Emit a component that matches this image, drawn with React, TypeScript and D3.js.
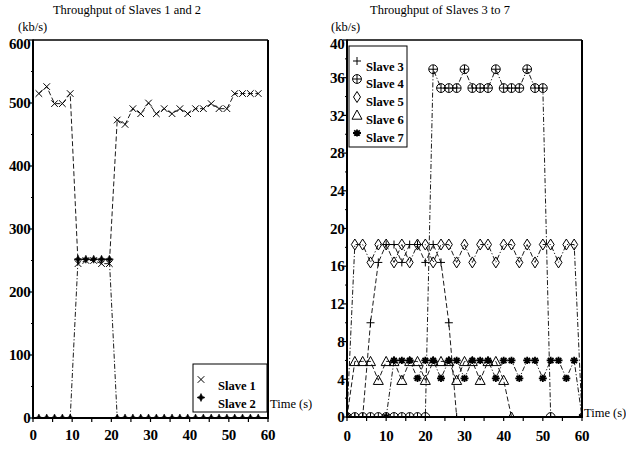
import React from 'react';
import * as d3 from 'd3';

const W = 626;
const H = 453;
const SERIF = "'Liberation Serif', 'Times New Roman', Times, serif";

// ---- Throughput of Slaves 1 and 2 (kb/s) ----
const leftTimes = [
  1.5, 3.5, 5.5, 7.5, 9.5, 11.5, 13.5, 15.5, 17.5, 19.5, 21.5, 23.5, 25.5, 27.5, 29.5,
  31.5, 33.5, 35.5, 37.5, 39.5, 41.5, 43.5, 45.5, 47.5, 49.5, 51.5, 53.5, 55.5, 57.5,
];
const slave1 = [
  515, 526, 499, 499, 515, 245, 250, 250, 245, 245, 473, 466, 491, 483, 500,
  483, 491, 483, 491, 483, 491, 491, 499, 491, 491, 515, 515, 515, 515,
];
const slave2 = [
  0, 0, 0, 0, 0, 252, 252, 252, 252, 252, 0, 0, 0, 0, 0,
  0, 0, 0, 0, 0, 0, 0, 0, 0, 0, 0, 0, 0, 0,
];
const leftYTicks = [0, 100, 200, 300, 400, 500, 600];

// ---- Throughput of Slaves 3 to 7 (kb/s) ----
const rightTimes = [
  0, 2, 4, 6, 8, 10, 12, 14, 16, 18, 20, 22, 24, 26, 28, 30,
  32, 34, 36, 38, 40, 42, 44, 46, 48, 50, 52, 54, 56, 58, 60,
];
const slave3 = [
  0, 0, 0, 10, 16.4, 18.3, 18.3, 16.4, 18.3, 18.3, 16.4, 18.3, 16.4, 10, 0, null,
  null, null, null, null, null, null, null, null, null, null, null, null, null, null, null,
];
const slave4 = [
  0, 0, 0, 0, 0, 0, 0, 0, 0, 0, 0, 36.9, 34.9, 34.9, 34.9, 36.9,
  34.9, 34.9, 34.9, 36.9, 34.9, 34.9, 34.9, 36.9, 34.9, 34.9, 0, null, null, null, null,
];
const slave5 = [
  0, 18.3, 18.3, 16.4, 18.3, 18.3, 16.4, 18.3, 16.4, 18.3, 18.3, 16.4, 18.3, 18.3, 16.4, 18.3,
  16.4, 18.3, 18.3, 16.4, 18.3, 18.3, 16.4, 18.3, 16.4, 18.3, 18.3, 16.4, 18.3, 18.3, 0,
];
const slave6 = [
  0, 5.9, 5.9, 5.9, 3.9, 5.9, 5.9, 3.9, 5.9, 5.9, 3.9, 5.9, 5.9, 5.9, 3.9, 5.9,
  5.9, 3.9, 5.9, 5.9, 3.9, 0, null, null, null, null, null, null, null, null, null,
];
const slave7 = [
  null, null, null, null, null, 0, 6, 6, 6, 4.1, 6, 6, 4.1, 6, 6, 4.1,
  6, 6, 6, 4.1, 6, 6, 4.1, 6, 6, 4.1, 6, 6, 4.1, 6, 0,
];
const rightYTicks = [0, 4, 8, 12, 16, 20, 24, 28, 32, 36, 40];
const xTicks = [0, 10, 20, 30, 40, 50, 60];

type MarkerKind = 'x' | 'star4' | 'plus' | 'circlePlus' | 'diamond' | 'triangle' | 'blob';

function Marker({ kind, x, y }: { kind: MarkerKind; x: number; y: number }) {
  const t = `translate(${x},${y})`;
  switch (kind) {
    case 'x':
      return <path transform={t} d="M-3.3,-3.3L3.3,3.3M-3.3,3.3L3.3,-3.3" stroke="#000" strokeWidth={1} fill="none" />;
    case 'star4':
      return (
        <path transform={t} d="M0,-4L1.3,-1.3L4,0L1.3,1.3L0,4L-1.3,1.3L-4,0L-1.3,-1.3Z" fill="#000" stroke="#000" strokeWidth={0.6} />
      );
    case 'plus':
      return <path transform={t} d="M-4,0H4M0,-4V4" stroke="#000" strokeWidth={1} fill="none" />;
    case 'circlePlus':
      return (
        <g transform={t} stroke="#000" strokeWidth={1} fill="none">
          <circle r={4.4} />
          <path d="M-4.4,0H4.4M0,-4.4V4.4" />
        </g>
      );
    case 'diamond':
      return <path transform={t} d="M0,-5.5L3.5,0L0,5.5L-3.5,0Z" stroke="#000" strokeWidth={1} fill="none" />;
    case 'triangle':
      return <path transform={t} d="M0,-5L5,4.2L-5,4.2Z" stroke="#000" strokeWidth={1} fill="none" />;
    case 'blob':
      return (
        <g transform={t}>
          <path d="M-4,0H4M0,-3.6V3.6M-2.8,-2.6L2.8,2.6M-2.8,2.6L2.8,-2.6" stroke="#000" strokeWidth={1.8} fill="none" />
          <circle r={1.8} fill="#000" />
        </g>
      );
  }
  return null;
}

type Series = { name: string; values: (number | null)[]; marker: MarkerKind; dash: string };

const DASHED = '5,2.5';
const DASHDOT = '5,2,1.2,2';

const leftSeries: Series[] = [
  { name: 'Slave 1', values: slave1, marker: 'x', dash: DASHED },
  { name: 'Slave 2', values: slave2, marker: 'star4', dash: DASHDOT },
];

const rightSeries: Series[] = [
  { name: 'Slave 3', values: slave3, marker: 'plus', dash: DASHED },
  { name: 'Slave 4', values: slave4, marker: 'circlePlus', dash: DASHDOT },
  { name: 'Slave 5', values: slave5, marker: 'diamond', dash: DASHDOT },
  { name: 'Slave 6', values: slave6, marker: 'triangle', dash: DASHED },
  { name: 'Slave 7', values: slave7, marker: 'blob', dash: DASHDOT },
];

type PanelProps = {
  id: string;
  title: string;
  titleX: number;
  unitX: number;
  times: number[];
  series: Series[];
  xRange: [number, number];
  yRange: [number, number];
  yMax: number;
  yTicks: number[];
  yMinorStep: number;
  timeLabelY: number;
  xLabelY: number;
  legend: {
    x: number;
    y: number;
    w: number;
    h: number;
    markerX: number;
    textX: number;
    markerYs: number[];
    textYs: number[];
    size: number;
  };
};

function Panel(p: PanelProps) {
  const x = d3.scaleLinear().domain([0, 60]).range(p.xRange);
  const y = d3.scaleLinear().domain([0, p.yMax]).range(p.yRange);
  const [x0, x1] = p.xRange;
  const [yb, yt] = p.yRange;
  const minorX = d3.range(0, 61, 5);
  const minorY = d3.range(0, p.yMax + 0.001, p.yMinorStep).filter((v) => !p.yTicks.includes(v));
  const clipId = `clip-${p.id}`;

  const line = d3
    .line<[number, number | null]>()
    .defined((d) => d[1] !== null)
    .x((d) => x(d[0]))
    .y((d) => y(d[1] as number));

  return (
    <g>
      <defs>
        <clipPath id={clipId}>
          <rect x={x0} y={yt} width={x1 - x0} height={yb - yt} />
        </clipPath>
      </defs>

      <text x={p.titleX} y={14} textAnchor="middle" fontFamily={SERIF} fontSize={12.5}>
        {p.title}
      </text>
      <text x={p.unitX} y={31} fontFamily={SERIF} fontSize={12.5}>
        (kb/s)
      </text>

      {/* series */}
      <g clipPath={`url(#${clipId})`}>
        {p.series.map((s) => {
          const pts = p.times.map((t, i) => [t, s.values[i]] as [number, number | null]);
          return (
            <g key={s.name}>
              <path d={line(pts) || ''} fill="none" stroke="#000" strokeWidth={0.9} strokeDasharray={s.dash} />
              {pts
                .filter((d) => d[1] !== null)
                .map((d, i) => (
                  <Marker key={i} kind={s.marker} x={x(d[0])} y={y(d[1] as number)} />
                ))}
            </g>
          );
        })}
      </g>

      {/* frame */}
      <line x1={x0} y1={yt} x2={x1} y2={yt} stroke="#000" strokeWidth={1.3} />
      <line x1={x1} y1={yt} x2={x1} y2={yb} stroke="#000" strokeWidth={2} />
      <line x1={x0} y1={yt - 0.6} x2={x0} y2={yb + 1} stroke="#000" strokeWidth={2} />
      <line x1={x0 - 1} y1={yb} x2={x1 + 1} y2={yb} stroke="#000" strokeWidth={2} />

      {/* y ticks */}
      {p.yTicks.map((v) => (
        <g key={`yt${v}`}>
          <line x1={x0 - 4} x2={x0} y1={y(v)} y2={y(v)} stroke="#000" strokeWidth={1.2} />
          <text
            x={x0 - 2.5}
            y={Math.max(y(v) + 5.2, yt + 8.5)}
            textAnchor="end"
            fontFamily={SERIF}
            fontWeight="bold"
            fontSize={15}
            letterSpacing={-0.3}
          >
            {v}
          </text>
        </g>
      ))}
      {minorY.map((v) => (
        <line key={`ym${v}`} x1={x0 - 2} x2={x0} y1={y(v)} y2={y(v)} stroke="#000" strokeWidth={1} />
      ))}

      {/* x ticks */}
      {minorX.map((v) => (
        <line key={`xm${v}`} x1={x(v)} x2={x(v)} y1={yb} y2={yb + 4} stroke="#000" strokeWidth={1.2} />
      ))}
      {xTicks.map((v) => (
        <text
          key={`xt${v}`}
          x={x(v)}
          y={p.xLabelY}
          textAnchor="middle"
          fontFamily={SERIF}
          fontWeight="bold"
          fontSize={15}
          letterSpacing={-0.3}
        >
          {v}
        </text>
      ))}
      <text x={x1 + 2} y={p.timeLabelY} fontFamily={SERIF} fontSize={12.5}>
        Time (s)
      </text>

      {/* legend */}
      <rect x={p.legend.x} y={p.legend.y} width={p.legend.w} height={p.legend.h} fill="#fff" stroke="#000" strokeWidth={1} />
      {p.series.map((s, i) => (
        <g key={`lg${s.name}`}>
          <Marker kind={s.marker} x={p.legend.markerX} y={p.legend.markerYs[i]} />
          <text x={p.legend.textX} y={p.legend.textYs[i]} fontFamily={SERIF} fontSize={p.legend.size} fontWeight="bold">
            {s.name}
          </text>
        </g>
      ))}
    </g>
  );
}

export default function App() {
  return (
    <svg
      width={W}
      height={H}
      viewBox={`0 0 ${W} ${H}`}
      style={{ position: 'absolute', left: 0, top: 0, background: '#fff' }}
    >
      <rect width={W} height={H} fill="#fff" />
      <Panel
        id="left"
        title="Throughput of Slaves 1 and 2"
        titleX={127}
        unitX={18}
        times={leftTimes}
        series={leftSeries}
        xRange={[33, 268]}
        yRange={[418, 40]}
        yMax={600}
        yTicks={leftYTicks}
        yMinorStep={50}
        timeLabelY={408}
        xLabelY={440}
        legend={{
          x: 193,
          y: 364,
          w: 74,
          h: 48,
          markerX: 201,
          textX: 218,
          markerYs: [379.5, 397.5],
          textYs: [389.5, 408],
          size: 12.5,
        }}
      />
      <Panel
        id="right"
        title="Throughput of Slaves 3 to 7"
        titleX={440}
        unitX={331}
        times={rightTimes}
        series={rightSeries}
        xRange={[347, 582]}
        yRange={[417, 40]}
        yMax={40}
        yTicks={rightYTicks}
        yMinorStep={2}
        timeLabelY={417}
        xLabelY={441}
        legend={{
          x: 349,
          y: 46,
          w: 58,
          h: 101,
          markerX: 357,
          textX: 366,
          markerYs: [61, 79, 97, 115, 133],
          textYs: [70.5, 88, 106, 123.5, 141.5],
          size: 12.5,
        }}
      />
    </svg>
  );
}
